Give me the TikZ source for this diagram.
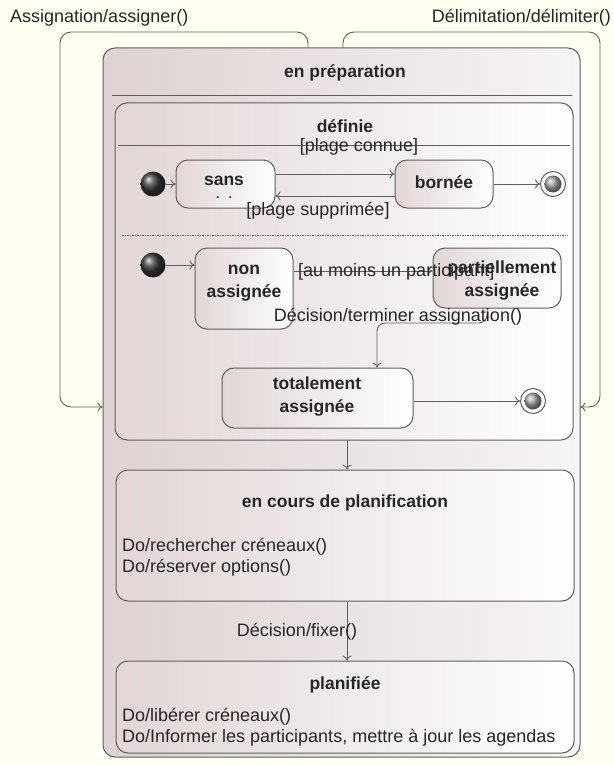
\documentclass[tikz,border=0pt]{standalone}
\usepackage{fontspec}
\setmainfont{Liberation Sans}
\usetikzlibrary{arrows.meta,calc}
\definecolor{bgc}{RGB}{255,255,242}
\definecolor{linec}{RGB}{95,95,95}
\definecolor{pinkl}{RGB}{226,214,214}
\definecolor{pinko}{RGB}{222,210,210}
\definecolor{pinkr}{RGB}{247,244,244}
\begin{document}
\begin{tikzpicture}[x=1pt,y=-1pt,
  box/.style={draw=linec, line width=1pt, rounded corners=12pt, left color=pinkl, right color=white, inner sep=0pt},
  lbl/.style={font=\fontsize{18}{20.5}\selectfont, inner sep=0pt, text=black!85},
  ttl/.style={font=\fontsize{17.5}{23}\selectfont\bfseries, inner sep=0pt, align=center, text=black!85},
  arr/.style={draw=linec, line width=0.9pt, -{To[length=5pt,width=9pt]}},
  ln/.style={draw=linec, line width=0.9pt},
  init/.style={circle, minimum size=25pt, inner sep=0pt, ball color=gray!45!black},
  fin/.style={circle, minimum size=25pt, inner sep=0pt, draw=linec, line width=1pt, fill=white},
  finin/.style={circle, minimum size=17pt, inner sep=0pt, ball color=gray!70},
]
\useasboundingbox (0,0) rectangle (613,765);
\fill[bgc] (0,0) rectangle (613,765);

% outer composite state
\node[box, left color=pinko, right color=pinkr, minimum width=477pt, minimum height=709pt] (prep) at (341.5,402.5) {};
\node[ttl] (tprep) at (345,73) {en préparation};
\draw[ln] (112,95) -- (572,95);

% self transitions
\node[lbl, anchor=west] (lassig) at (10,18) {Assignation/assigner()};
\node[lbl, anchor=east] (ldelim) at (611,18) {Délimitation/délimiter()};
\draw[arr, rounded corners=11pt] ([xshift=-33.5pt]prep.north) -- (308,32) -- (60,32) -- (60,407) -- (prep.west |- 0,407);
\draw[arr, rounded corners=11pt] ([xshift=1.5pt]prep.north) -- (343,32) -- (600,32) -- (600,407) -- (prep.east |- 0,407);

% définie
\node[box, minimum width=458pt, minimum height=337pt] (definie) at (344,271.5) {};
\node[ttl] (tdef) at (345,126) {définie};
\draw[ln] (118,145) -- (570,145);
\draw[ln, dash pattern=on 1.5pt off 1pt, line width=0.8pt] (122,235) -- (568,235);

% region 1
\node[init] (i1) at (153,184) {};
\node[box, minimum width=99pt, minimum height=48pt] (sans) at (225.5,184) {};
\node[ttl] (tsans) at (224,181) {sans};
\node[lbl, font=\fontsize{12}{12}\selectfont\bfseries] (tsans2) at (224,198) {.\hspace{9pt}.};
\node[box, minimum width=98pt, minimum height=48pt] (bornee) at (444,184) {};
\node[ttl] (tbornee) at (444,182) {bornée};
\node[fin] (f1) at (553,184) {};
\node[finin] (f1i) at (f1) {};
\draw[arr] (i1) -- (sans);
\draw[arr] ([yshift=10pt]sans.east) -- ([yshift=10pt]bornee.west);
\draw[arr] ([yshift=-12pt]bornee.west) -- ([yshift=-12pt]sans.east);
\draw[arr] (bornee) -- (f1);
\node[lbl] (lconnue) at (359,147) {[plage connue]};
\node[lbl] (lsupp) at (318,211) {[plage supprimée]};

% region 2
\node[init] (i2) at (153,265) {};
\node[box, minimum width=98pt, minimum height=81pt] (non) at (244,288.5) {};
\node[ttl] (tnon) at (244,283) {non\\assignée};
\node[box, minimum width=128pt, minimum height=60pt] (part) at (497,278) {};
\begin{scope}
\clip[rounded corners=12pt] (433,248) rectangle (561,306);
\node[ttl] (tpart) at (502,281) {partiellement\\assignée};
\end{scope}
\node[box, minimum width=191pt, minimum height=60pt] (tot) at (317.5,398) {};
\node[ttl] (ttot) at (317,397) {totalement\\assignée};
\node[fin] (f2) at (533,401) {};
\node[finin] (f2i) at (f2) {};
\draw[arr] (i2) -- (i2 -| non.west);
\draw[arr] (non.east |- 0,271) -- (part.west |- 0,271);
\draw[arr, rounded corners=8pt] ([xshift=-10pt]part.south) -- (487,323) -- (377,323) -- (tot.north -| 377,0);
\draw[arr] (tot.east |- f2) -- (f2);
\node[lbl, anchor=west] (lpart) at (298,272) {[au moins un participant]};
\node[lbl] (lterm) at (398,317) {Décision/terminer assignation()};

% en cours de planification
\node[box, minimum width=458pt, minimum height=131pt] (cours) at (345,535.5) {};
\node[ttl] (tcours) at (345,503) {en cours de planification};
\node[lbl, anchor=west, align=left] (dcours) at (122,557) {Do/rechercher créneaux()\\Do/réserver options()};
\draw[arr] (definie.south -| 347,0) -- (cours.north -| 347,0);

% planifiée
\node[box, minimum width=458pt, minimum height=92pt] (plan) at (345,707) {};
\node[ttl] (tplan) at (345,685) {planifiée};
\node[lbl, anchor=west, align=left] (dplan) at (122,727) {Do/libérer créneaux()\\Do/Informer les participants, mettre à jour les agendas};
\draw[arr] (cours.south -| 347,0) -- (plan.north -| 347,0);
\node[lbl] (lfix) at (297,632) {Décision/fixer()};
\end{tikzpicture}
\end{document}
